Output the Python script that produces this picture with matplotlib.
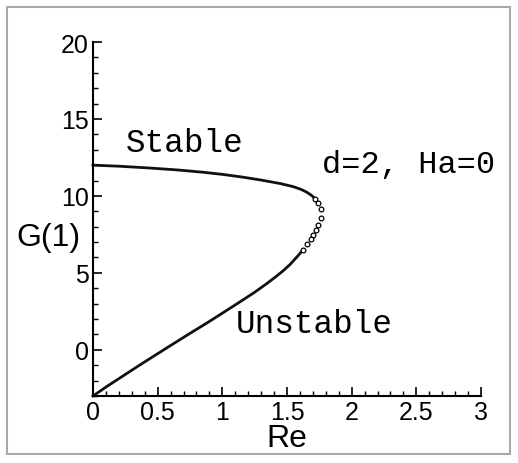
import matplotlib.pyplot as plt
from matplotlib.patches import Rectangle
from matplotlib.ticker import MultipleLocator

# neutral curve G(1) against Re: upper (stable) branch, the turning point,
# then the lower (unstable) branch back to Re = 0
upper_re = [0.0, 0.2, 0.425, 0.65, 0.85, 1.0, 1.15, 1.3, 1.45, 1.549,
            1.61, 1.653, 1.692, 1.717]
upper_g = [12.0, 11.93, 11.82, 11.69, 11.54, 11.40, 11.23, 11.03, 10.80, 10.60,
           10.42, 10.24, 10.02, 9.81]

# individual solution points round the nose of the curve
nose_re = [1.717, 1.742, 1.761, 1.761, 1.742, 1.721, 1.704, 1.684, 1.653, 1.626]
nose_g = [9.81, 9.55, 9.12, 8.55, 8.08, 7.76, 7.49, 7.21, 6.88, 6.51]

lower_re = [1.626, 1.575, 1.524, 1.472, 1.421, 1.343, 1.25, 1.137, 1.0, 0.88,
            0.75, 0.6, 0.5, 0.35, 0.25, 0.1, 0.0]
lower_g = [6.51, 6.02, 5.55, 5.15, 4.80, 4.30, 3.74, 3.12, 2.38, 1.74,
           1.07, 0.28, -0.25, -1.05, -1.60, -2.42, -3.0]

x_ticks = [0, 0.5, 1, 1.5, 2, 2.5, 3]
x_labels = ['0', '0.5', '1', '1.5', '2', '2.5', '3']
y_ticks = [0, 5, 10, 15, 20]

fig = plt.figure(figsize=(5.18, 4.64), dpi=100)
ax = fig.add_axes([0.1795, 0.1444, 0.7491, 0.7629])

ax.plot(upper_re, upper_g, color='#111111', lw=2.0, clip_on=False)
ax.plot(lower_re, lower_g, color='#111111', lw=2.0, clip_on=False)
ax.plot(nose_re, nose_g, ls='none', marker='o', ms=3.4, mfc='white',
        mec='black', mew=0.9)

ax.set_xlim(0, 3)
ax.set_ylim(-3, 20)
ax.set_xticks(x_ticks)
ax.set_xticklabels(x_labels)
ax.set_yticks(y_ticks)
ax.xaxis.set_minor_locator(MultipleLocator(0.1))
ax.yaxis.set_minor_locator(MultipleLocator(1))

for side in ['top', 'right']:
    ax.spines[side].set_visible(False)
for side in ['left', 'bottom']:
    ax.spines[side].set_linewidth(1.5)

ax.tick_params(which='major', direction='in', length=6.5, width=1.2,
               labelsize=18, pad=3)
ax.tick_params(which='minor', direction='in', length=3.3, width=1.0)
for lab in ax.get_xticklabels() + ax.get_yticklabels():
    lab.set_family('Liberation Sans')

ax.set_xlabel('Re', family='Liberation Sans', fontsize=23, labelpad=-1)
ax.set_ylabel('G(1)', family='Liberation Sans', fontsize=23, rotation=0,
              ha='center', va='center')
ax.yaxis.set_label_coords(-0.115, 0.449)

ax.text(0.25, 12.9, 'Stable', family='Liberation Mono', fontsize=23.5)
ax.text(1.1, 1.15, 'Unstable', family='Liberation Mono', fontsize=23.5)
ax.text(1.77, 11.55, 'd=2, Ha=0', family='Liberation Mono', fontsize=23)

# light grey frame round the whole figure
fig.patches.append(Rectangle((7 / 518, 9 / 464), 503 / 518, 447 / 464,
                             transform=fig.transFigure, fill=False,
                             edgecolor='#aaaaaa', lw=1.5))

fig.savefig('out.png', dpi=100)
